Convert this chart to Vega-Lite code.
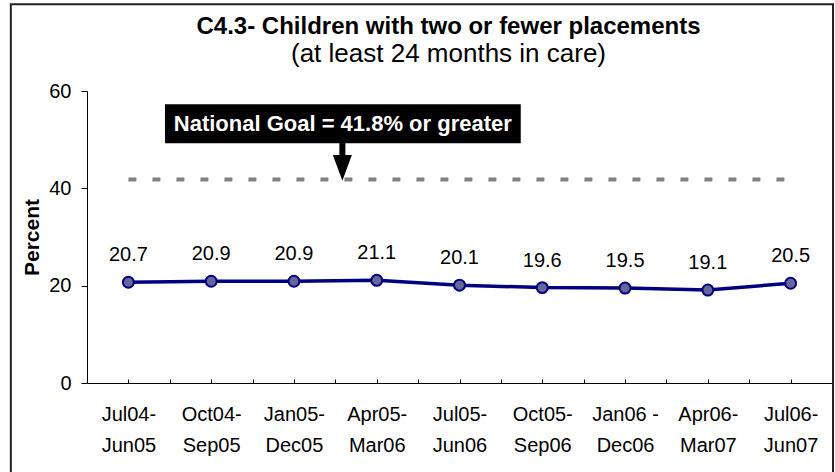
{
  "$schema": "https://vega.github.io/schema/vega-lite/v6.json",
  "width": 745,
  "height": 292,
  "autosize": {"type": "none"},
  "padding": {"left": 87, "top": 91, "right": 3, "bottom": 89},
  "background": "white",
  "config": {"font": "Liberation Sans", "view": {"stroke": null}},
  "title": {
    "text": "C4.3- Children with two or fewer placements",
    "subtitle": "(at least 24 months in care)",
    "font": "Liberation Sans",
    "fontSize": 24,
    "fontWeight": "bold",
    "color": "black",
    "subtitleFont": "Liberation Sans",
    "subtitleFontSize": 26,
    "subtitleColor": "black",
    "subtitlePadding": 2,
    "anchor": "middle",
    "frame": "group",
    "dx": -11,
    "offset": -64
  },
  "layer": [
    {
      "data": {
        "values": [
          {"period": "Jul04-Jun05", "value": 20.7},
          {"period": "Oct04-Sep05", "value": 20.9},
          {"period": "Jan05-Dec05", "value": 20.9},
          {"period": "Apr05-Mar06", "value": 21.1},
          {"period": "Jul05-Jun06", "value": 20.1},
          {"period": "Oct05-Sep06", "value": 19.6},
          {"period": "Jan06 -Dec06", "value": 19.5},
          {"period": "Apr06-Mar07", "value": 19.1},
          {"period": "Jul06-Jun07", "value": 20.5}
        ]
      },
      "layer": [
        {
          "mark": {"type": "line", "color": "#808080", "strokeWidth": 4, "strokeDash": [8, 16]},
          "encoding": {
            "x": {
              "field": "period",
              "type": "ordinal",
              "sort": null,
              "axis": {
                "title": null,
                "orient": "bottom",
                "offset": 0,
                "labelAngle": 0,
                "labelFontSize": 20,
                "labelColor": "black",
                "labelPadding": 25,
                "labelLineHeight": 31,
                "labelBaseline": "top",
                "labelExpr": "[slice(datum.label, 0, indexof(datum.label, '-') + 1), slice(datum.label, indexof(datum.label, '-') + 1)]",
                "tickSize": -4,
                "tickColor": "black",
                "domainColor": "black",
                "grid": false
              }
            },
            "y": {
              "datum": 41.8,
              "type": "quantitative",
              "scale": {"domain": [0, 60], "nice": false, "zero": true},
              "axis": {
                "title": "Percent",
                "titleFontSize": 21,
                "titleFontWeight": "bold",
                "titleColor": "black",
                "titlePadding": 6,
                "values": [0, 20, 40, 60],
                "labelFontSize": 20,
                "labelColor": "black",
                "labelPadding": 10,
                "tickSize": 6,
                "tickColor": "black",
                "domainColor": "black",
                "grid": false
              }
            }
          }
        },
        {
          "mark": {"type": "line", "color": "#000080", "strokeWidth": 3.5},
          "encoding": {
            "x": {"field": "period", "type": "ordinal", "sort": null},
            "y": {"field": "value", "type": "quantitative"}
          }
        },
        {
          "mark": {"type": "point", "shape": "circle", "filled": true, "size": 120, "fill": "#666699", "stroke": "#000080", "strokeWidth": 2, "opacity": 1},
          "encoding": {
            "x": {"field": "period", "type": "ordinal", "sort": null},
            "y": {"field": "value", "type": "quantitative"}
          }
        },
        {
          "mark": {"type": "text", "fontSize": 20, "color": "black", "baseline": "alphabetic", "align": "center", "dy": -21},
          "encoding": {
            "x": {"field": "period", "type": "ordinal", "sort": null},
            "y": {"field": "value", "type": "quantitative"},
            "text": {"field": "value", "type": "quantitative", "format": ".1f"}
          }
        }
      ]
    },
    {
      "data": {"values": [{"label": "National Goal = 41.8% or greater"}]},
      "layer": [
        {
          "mark": {"type": "rect", "fillOpacity": 0, "stroke": "#222222", "strokeWidth": 2},
          "encoding": {
            "x": {
              "datum": -1.42,
              "type": "quantitative",
              "scale": {"domain": [-0.5, 8.5], "nice": false, "zero": false},
              "axis": {
                "orient": "bottom",
                "offset": 0,
                "title": null,
                "values": [0.5, 1.5, 2.5, 3.5, 4.5, 5.5, 6.5, 7.5],
                "labels": false,
                "domain": false,
                "grid": false,
                "tickSize": -4,
                "tickColor": "black"
              }
            },
            "x2": {"datum": 8.512},
            "y": {"datum": 77.8, "type": "quantitative", "scale": {"domain": [0, 60], "nice": false}},
            "y2": {"datum": -20}
          }
        },
        {
          "mark": {"type": "rect", "color": "black"},
          "encoding": {
            "x": {"datum": 0.442, "type": "quantitative"},
            "x2": {"datum": 4.74},
            "y": {"datum": 57.27, "type": "quantitative"},
            "y2": {"datum": 49.27}
          }
        },
        {
          "mark": {"type": "text", "color": "white", "fontSize": 22, "fontWeight": "bold", "baseline": "middle", "align": "center"},
          "encoding": {
            "x": {"datum": 2.59, "type": "quantitative"},
            "y": {"datum": 53.27, "type": "quantitative"},
            "text": {"field": "label", "type": "nominal"}
          }
        },
        {
          "mark": {"type": "rule", "color": "black", "strokeWidth": 6},
          "encoding": {
            "x": {"datum": 2.585, "type": "quantitative"},
            "y": {"datum": 49.3, "type": "quantitative"},
            "y2": {"datum": 46.3}
          }
        },
        {
          "mark": {"type": "point", "shape": "M-1,-1.35L1,-1.35L0,1.35Z", "filled": true, "size": 361, "color": "black", "opacity": 1},
          "encoding": {
            "x": {"datum": 2.585, "type": "quantitative"},
            "y": {"datum": 44.2, "type": "quantitative"}
          }
        }
      ]
    }
  ],
  "resolve": {"scale": {"x": "independent"}, "axis": {"x": "independent"}}
}
